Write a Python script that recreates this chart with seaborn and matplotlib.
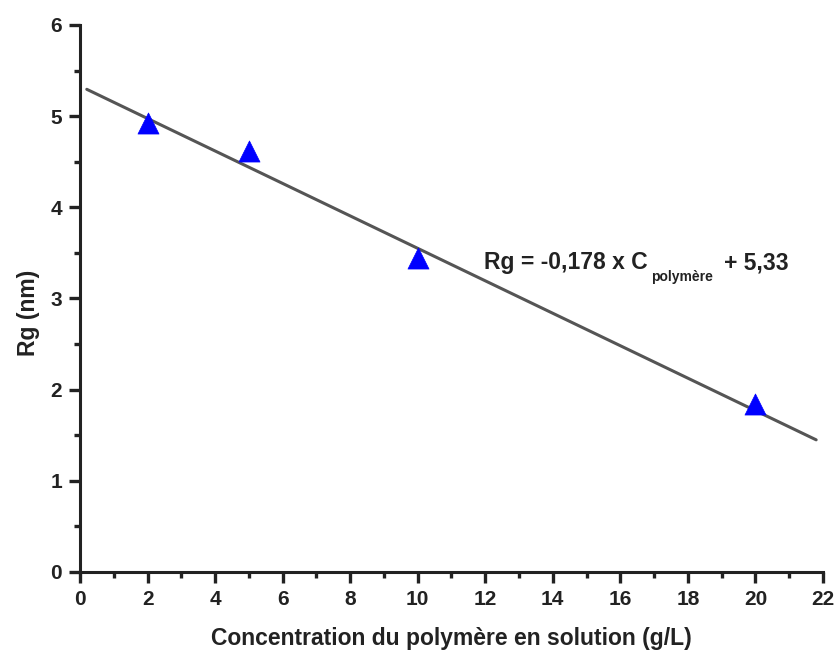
import numpy as np
import pandas as pd
import matplotlib
matplotlib.use("Agg")
import matplotlib.pyplot as plt
import seaborn as sns
from matplotlib.ticker import MultipleLocator

# Data
concentration = [2, 5, 10, 20]          # g/L
rg_nm = [4.93, 4.62, 3.44, 1.84]        # nm

# Linear fit shown on the figure
slope = -0.178
intercept = 5.33
fit_x = [0.2, 21.8]

sns.set_style("ticks")
plt.rcParams['font.family'] = ['Liberation Sans', 'DejaVu Sans']
plt.rcParams['font.weight'] = 'bold'

df = pd.DataFrame({'C': concentration, 'Rg': rg_nm})
df_fit = pd.DataFrame({'C': fit_x})
df_fit['Rg'] = slope * df_fit['C'] + intercept

fig = plt.figure(figsize=(8.38, 6.52), dpi=100)
ax = fig.add_axes([0.0955, 0.1227, 0.8865, 0.839])

sns.lineplot(data=df_fit, x='C', y='Rg', ax=ax, color='#555555', lw=2.2)
sns.scatterplot(data=df, x='C', y='Rg', ax=ax, marker='^', s=230,
                color='#0000ff', edgecolor='#0000ff', linewidth=0.5, zorder=3)

ax.set_xlim(0, 22)
ax.set_ylim(0, 6)
ax.xaxis.set_major_locator(MultipleLocator(2))
ax.xaxis.set_minor_locator(MultipleLocator(1))
ax.yaxis.set_major_locator(MultipleLocator(1))
ax.yaxis.set_minor_locator(MultipleLocator(0.5))
ax.tick_params(which='major', length=8, width=2.4, color='#222222', labelsize=15,
               labelcolor='#222222', pad=5)
ax.tick_params(which='minor', length=4, width=2.4, color='#222222')
for lab in ax.get_xticklabels() + ax.get_yticklabels():
    lab.set_fontweight('bold')

sns.despine(ax=ax)
for s in ['left', 'bottom']:
    ax.spines[s].set_linewidth(2.2)
    ax.spines[s].set_color('#222222')

ax.set_xlabel('Concentration du polymère en solution (g/L)', fontsize=16.5,
              fontweight='bold', color='#222222', labelpad=13)
ax.set_ylabel('Rg (nm)', fontsize=16.5, color='#222222', fontweight='bold')
ax.yaxis.set_label_coords(-0.054, 0.4735)

# equation with a very small subscript, built from chained text pieces
t1 = ax.text(11.95, 3.39, 'Rg = -0,178 x C', fontsize=16.5, fontweight='bold',
             color='#222222', va='center', ha='left')
t2 = ax.annotate('polymère', xy=(1, 0), xycoords=t1, xytext=(2.5, 3),
                 textcoords='offset points', fontsize=10, fontweight='bold',
                 color='#222222', va='top', ha='left')
ax.annotate('+ 5,33', xy=(1, 0.5), xycoords=(t2, t1), xytext=(8, 0),
            textcoords='offset points', fontsize=16.5, fontweight='bold',
            color='#222222', va='center', ha='left')

fig.savefig('out.png', dpi=100)
